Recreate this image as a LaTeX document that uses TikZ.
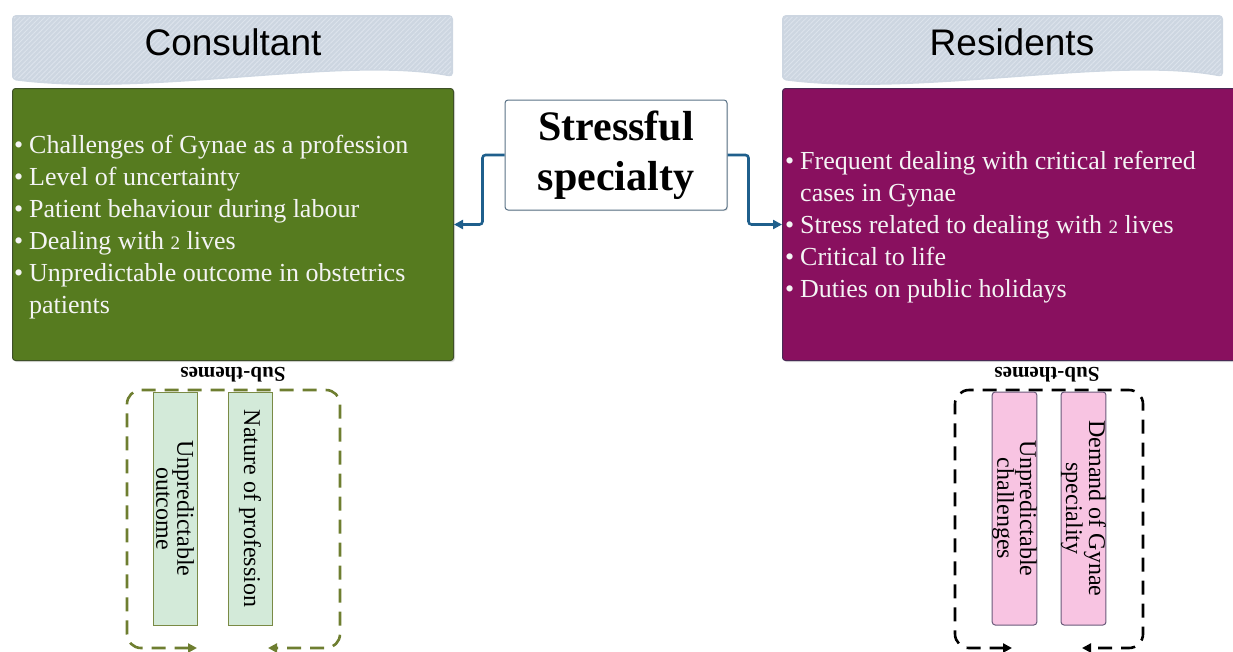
\documentclass[tikz,border=0pt]{standalone}
\usepackage{fontspec}
\setmainfont{Liberation Serif}
\newfontfamily\headfont{Liberation Sans}
\usetikzlibrary{arrows.meta,patterns.meta,shadows}

\definecolor{hdrfill}{HTML}{CDD6E1}
\definecolor{hdrline}{HTML}{DCE3EC}
\definecolor{gfill}{HTML}{567B1F}
\definecolor{gborder}{HTML}{3E5028}
\definecolor{pfill}{HTML}{89105F}
\definecolor{pborder}{HTML}{4A2A55}
\definecolor{conncol}{HTML}{1F5F8C}
\definecolor{stressborder}{HTML}{5A7286}
\definecolor{olivedash}{HTML}{6E7E30}
\definecolor{mintfill}{HTML}{D3EAD9}
\definecolor{mintborder}{HTML}{7A8A45}
\definecolor{pinkfill}{HTML}{F8C4E2}
\definecolor{pinkborder}{HTML}{6A5A7A}
\definecolor{bodytext}{HTML}{F4F4F4}

% list helpers: bullet item, continuation line, small old-style two
\newcommand\itm[1]{\makebox[15pt][l]{\textbullet}#1}
\newcommand\cont[1]{\hspace*{15pt}#1}
\newcommand\two{{\fontsize{19}{19}\selectfont 2}}

% wavy banner used above each column
\newcommand\banner{%
  \fill[hdrfill,rounded corners=4pt] (0,80) -- (0,15) -- (441,15) -- (441,77)
     .. controls (330,56) and (140,98) .. (0,80) -- cycle;
  \fill[pattern={Lines[angle=45,distance=3.5pt,line width=0.9pt]},pattern color=hdrline]
     (2,78) -- (2,17) -- (439,17) -- (439,75)
     .. controls (330,55) and (140,96) .. (2,78) -- cycle;
}

\tikzset{
  mainbox/.style={rounded corners=3pt, line width=1pt, anchor=north west,
    minimum width=441pt, minimum height=272pt, inner sep=0pt,
    drop shadow={opacity=0.25, shadow xshift=1.5pt, shadow yshift=-1.5pt}},
  bullets/.style={anchor=west, inner sep=0pt, align=left, text=bodytext,
    font=\fontsize{26}{32}\selectfont},
  headtext/.style={font=\headfont\fontsize{37}{40}\selectfont, text=black},
  conn/.style={draw=conncol, line width=2.6pt, rounded corners=3pt,
    -{Triangle[length=9pt,width=9pt]}},
  subbox/.style={rotate=-90, minimum width=233pt, minimum height=44pt,
    inner sep=0pt, line width=1pt, align=center,
    font=\fontsize{24}{21}\selectfont},
  subtitle/.style={rotate=180, font=\bfseries\fontsize{21}{22}\selectfont},
  groupdash/.style={line width=2.6pt, dash pattern=on 14pt off 9pt,
    rounded corners=14pt, {Triangle[length=9pt,width=9pt]}-{Triangle[length=9pt,width=9pt]}},
}

\begin{document}
\begin{tikzpicture}[x=1pt,y=-1pt]
\useasboundingbox (0,0) rectangle (1233,651);
\clip (0,0) rectangle (1233,651);

% banners
\begin{scope}[xshift=12pt]\banner\end{scope}
\begin{scope}[xshift=782pt]\banner\end{scope}
\node[headtext] (conshead) at (233,42) {Consultant};
\node[headtext] (reshead) at (1012,42) {Residents};

% column boxes
\node[mainbox, draw=gborder, fill=gfill] (cons) at (12,88) {};
\node[mainbox, draw=pborder, fill=pfill, minimum width=460pt] (res) at (782,88) {};

\node[bullets] (constext) at (14,227) {%
  \itm{Challenges of Gynae as a profession}\\
  \itm{Level of uncertainty}\\
  \itm{Patient behaviour during labour}\\
  \itm{Dealing with \two{} lives}\\
  \itm{Unpredictable outcome in obstetrics}\\
  \cont{patients}};

\node[bullets] (restext) at (785,227) {%
  \itm{Frequent dealing with critical referred}\\
  \cont{cases in Gynae}\\
  \itm{Stress related to dealing with \two{} lives}\\
  \itm{Critical to life}\\
  \itm{Duties on public holidays}};

% central theme
\node[draw=stressborder, fill=white, line width=1pt, rounded corners=3pt,
  minimum width=222pt, minimum height=110pt, align=center,
  font=\bfseries\fontsize{42}{50}\selectfont,
  drop shadow={opacity=0.2, shadow xshift=1pt, shadow yshift=-1pt}]
  (stress) at (616,155) {Stressful\\specialty};

\draw[conn] (stress.west) -- ++(-22,0) |- (cons.east);
\draw[conn] (stress.east) -- ++(21,0) |- (res.west);

% sub-theme groups
\node[subtitle] (subl) at (233,375) {Sub-themes};
\node[subtitle] (subr) at (1047,375) {Sub-themes};

\draw[groupdash, draw=olivedash]
  (197,648) -- (127,648) -- (127,390) -- (340,390) -- (340,648) -- (268,648);
\draw[groupdash, draw=black]
  (1012,648) -- (955,648) -- (955,390) -- (1143,390) -- (1143,648) -- (1082,648);

\node[subbox, draw=mintborder, fill=mintfill] (outcome) at (175,508.5) {Unpredictable\\outcome};
\node[subbox, draw=mintborder, fill=mintfill] (nature) at (250,508.5) {Nature of profession};
\node[subbox, draw=pinkborder, fill=pinkfill, rounded corners=3pt] (challenges) at (1014.5,508.5) {Unpredictable\\challenges};
\node[subbox, draw=pinkborder, fill=pinkfill, rounded corners=3pt] (demand) at (1083.5,508.5) {Demand of Gynae\\speciality};
\end{tikzpicture}
\end{document}
